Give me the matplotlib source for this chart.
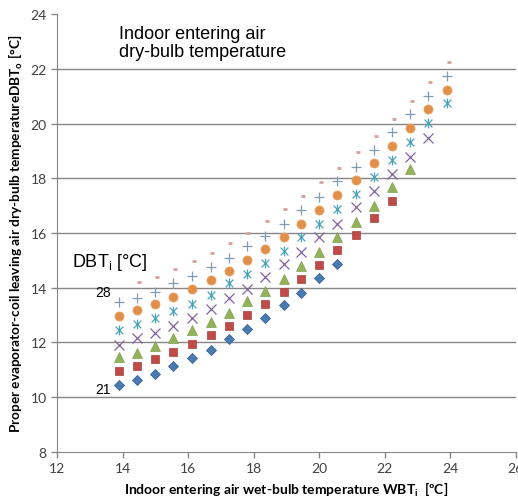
import matplotlib
matplotlib.use('Agg')
import matplotlib.pyplot as plt
from matplotlib.path import Path

# Indoor entering air wet-bulb temperature WBTi (shared x values)
wbt = [13.89, 14.44, 14.99, 15.54, 16.12, 16.68, 17.23, 17.78, 18.35, 18.91,
       19.44, 20.00, 20.55, 21.12, 21.67, 22.23, 22.78, 23.33, 23.90]
# the dash series starts at the second column
wbt_28 = [14.49, 15.04, 15.59, 16.17, 16.73, 17.28, 17.83, 18.40, 18.96,
          19.49, 20.05, 20.60, 21.17, 21.72, 22.28, 22.83, 23.38, 23.95]

# leaving air DBTo for each indoor DBTi
dbt_21 = [10.44, 10.63, 10.86, 11.13, 11.42, 11.73, 12.11, 12.48, 12.90, 13.35,
          13.81, 14.34, 14.86]
dbt_22 = [10.96, 11.14, 11.40, 11.64, 11.94, 12.28, 12.61, 13.01, 13.41, 13.85,
          14.31, 14.84, 15.39, 15.94, 16.56, 17.17]
dbt_23 = [11.47, 11.61, 11.85, 12.17, 12.45, 12.75, 13.07, 13.50, 13.89, 14.31,
          14.80, 15.31, 15.86, 16.41, 17.00, 17.68, 18.33]
dbt_24 = [11.91, 12.16, 12.34, 12.61, 12.90, 13.22, 13.61, 13.95, 14.40, 14.85,
          15.31, 15.84, 16.34, 16.95, 17.52, 18.15, 18.79, 19.48]
dbt_25 = [12.45, 12.67, 12.89, 13.14, 13.41, 13.75, 14.16, 14.49, 14.89, 15.36,
          15.84, 16.34, 16.88, 17.44, 18.04, 18.66, 19.33, 20.02, 20.74]
dbt_26 = [12.96, 13.17, 13.41, 13.66, 13.96, 14.29, 14.61, 15.01, 15.42, 15.85,
          16.33, 16.85, 17.39, 17.94, 18.57, 19.18, 19.84, 20.55, 21.23]
dbt_27 = [13.48, 13.64, 13.86, 14.16, 14.42, 14.74, 15.09, 15.51, 15.90, 16.33,
          16.83, 17.33, 17.89, 18.42, 19.02, 19.68, 20.35, 21.00, 21.74]
dbt_28 = [14.19, 14.39, 14.67, 14.96, 15.28, 15.64, 16.00, 16.45, 16.88, 17.35,
          17.87, 18.39, 18.97, 19.56, 20.18, 20.84, 21.53, 22.25]

x_ticks = [12, 14, 16, 18, 20, 22, 24, 26]
y_ticks = [8, 10, 12, 14, 16, 18, 20, 22, 24]

# excel style asterisk: an x with a vertical bar
star = Path([(-1, -1), (1, 1), (-1, 1), (1, -1), (0, -1.25), (0, 1.25)],
            [Path.MOVETO, Path.LINETO, Path.MOVETO, Path.LINETO,
             Path.MOVETO, Path.LINETO])

plt.rcParams['font.family'] = ['Lato', 'DejaVu Sans']
plt.rcParams['mathtext.fontset'] = 'custom'

fig = plt.figure(figsize=(5.18, 5.02), dpi=100)
ax = fig.add_axes([0.1106, 0.0982, 0.885, 0.8713])

ax.plot(wbt[:len(dbt_21)], dbt_21, ls='none', marker='D', ms=5.5, color='#4a7ab3',
        mec='#3b6496', mew=0.6)
ax.plot(wbt[:len(dbt_22)], dbt_22, ls='none', marker='s', ms=6, color='#be4b48',
        mec='#a8403d', mew=0.5)
ax.plot(wbt[:len(dbt_23)], dbt_23, ls='none', marker='^', ms=7, color='#93b35a',
        mec='#83a04f', mew=0.5)
ax.plot(wbt[:len(dbt_24)], dbt_24, ls='none', marker='x', ms=6.5, color='#8064a2',
        mew=0.9)
ax.plot(wbt[:len(dbt_25)], dbt_25, ls='none', marker=star, ms=7, color='#4aa3bd',
        mew=0.9)
ax.plot(wbt[:len(dbt_26)], dbt_26, ls='none', marker='o', ms=6.5, color='#e0904a',
        mec='#e9a060', mew=0.6)
ax.plot(wbt[:len(dbt_27)], dbt_27, ls='none', marker='+', ms=7.5, color='#7f9db6',
        mew=0.9)
ax.plot(wbt_28, dbt_28, ls='none', marker='_', ms=3.5, color='#d4a09e', mew=2)

ax.set_xlim(12, 26)
ax.set_ylim(8, 24)
ax.set_xticks(x_ticks)
ax.set_yticks(y_ticks)

ax.yaxis.grid(True, color='#868686', lw=1)
ax.get_ygridlines()[-1].set_visible(False)
ax.get_ygridlines()[0].set_visible(False)
for s in ['top', 'right']:
    ax.spines[s].set_visible(False)
for s in ['left', 'bottom']:
    ax.spines[s].set_color('#868686')
ax.tick_params(axis='both', colors='#868686', labelcolor='#404040', labelsize=10,
               length=4, width=1, direction='out')

ax.set_xlabel(r'Indoor entering air wet-bulb temperature WBT$\mathregular{_i}$  [ºC]',
              fontsize=10, fontweight='bold', labelpad=4)
ax.set_ylabel(r'Proper evaporator-coil leaving air dry-bulb temperatureDBT$\mathregular{_o}$ [°C]',
              fontsize=9.8, fontweight='bold', labelpad=4)

ax.text(13.89, 23.62, 'Indoor entering air\ndry-bulb temperature', family='Liberation Sans',
        fontsize=13, ha='left', va='top', linespacing=1.1)
ax.text(12.44, 14.95, r'DBT$\mathregular{_i}$ [°C]', family='Liberation Sans',
        fontsize=13, ha='left', va='center')
ax.text(13.63, 13.83, '28', family='Liberation Sans', fontsize=10, ha='right', va='center')
ax.text(13.63, 10.29, '21', family='Liberation Sans', fontsize=10, ha='right', va='center')

fig.savefig('out.png', dpi=100)
